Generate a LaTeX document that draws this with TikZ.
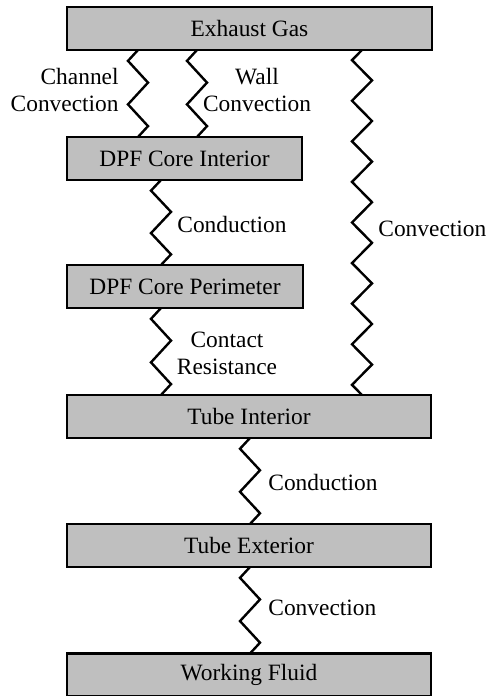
\documentclass[tikz,border=0pt]{standalone}
\usepackage{fontspec}
\setmainfont{Liberation Serif}
\usetikzlibrary{calc}
\tikzset{
  box/.style={draw=black, line width=1.4pt, fill=black!25, minimum height=21.5pt, inner sep=0pt, outer sep=0pt, font=\fontsize{11.7}{13.5}\selectfont},
  lbl/.style={inner sep=0pt, font=\fontsize{11.7}{13.5}\selectfont},
  zz/.style={line width=1.2pt, line join=miter}
}
\newcommand\myzz[4]{%
  \draw[zz] (#1) \foreach \k in {1,...,#3}{ -- ($(#1)!{(2*\k-1)/(2*#3)}!(#2) + ({ifthenelse(mod(\k,2)==1,-#4,#4)},0)$) } -- (#2);
}
\begin{document}
\begin{tikzpicture}[x=0.5pt,y=-0.5pt]
\useasboundingbox (0,0) rectangle (487,696);
\node[box, minimum width=182.5pt] (eg) at (249.5,28.5) {Exhaust Gas};
\node[box, minimum width=117.5pt] (dci) at (184.5,158.5) {DPF Core Interior};
\node[box, minimum width=118pt] (dcp) at (185,286.5) {DPF Core Perimeter};
\node[box, minimum width=182pt] (ti) at (249,416.5) {Tube Interior};
\node[box, minimum width=182pt] (te) at (249,545.5) {Tube Exterior};
\node[box, minimum width=182pt] (wf) at (249,675) {Working Fluid};
\coordinate (x1) at (138,0);
\coordinate (x2) at (197,0);
\coordinate (x3) at (362,0);
\coordinate (x4) at (161,0);
\coordinate (x5) at (250,0);
\myzz{x1 |- eg.south}{x1 |- dci.north}{4}{10}
\myzz{x2 |- eg.south}{x2 |- dci.north}{4}{10}
\myzz{x3 |- eg.south}{x3 |- ti.north}{17}{10}
\myzz{x4 |- dci.south}{x4 |- dcp.north}{4}{10}
\myzz{x4 |- dcp.south}{x4 |- ti.north}{4}{10}
\myzz{x5 |- ti.south}{x5 |- te.north}{4}{10}
\myzz{x5 |- te.south}{x5 |- wf.north}{4}{10}
\node[lbl, align=right, anchor=east] (l1) at (119,90) {Channel\\Convection};
\node[lbl, align=center] (l2) at (257,90) {Wall\\Convection};
\node[lbl, anchor=west] (l3) at (177,224) {Conduction};
\node[lbl, anchor=west] (l4) at (378,229) {Convection};
\node[lbl, align=center] (l5) at (227,353) {Contact\\Resistance};
\node[lbl, anchor=west] (l6) at (268,482) {Conduction};
\node[lbl, anchor=west] (l7) at (268,608) {Convection};
\end{tikzpicture}
\end{document}
